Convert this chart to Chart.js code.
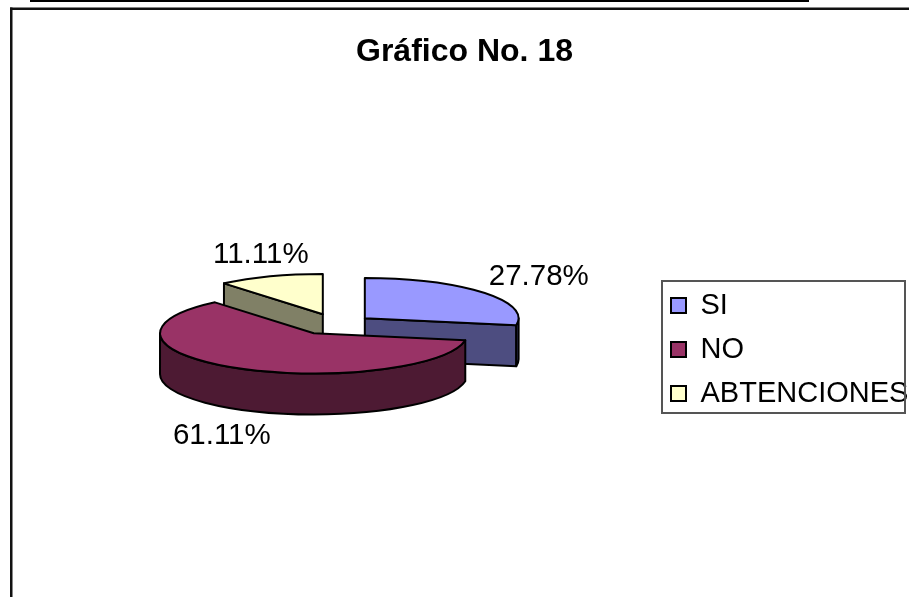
<!DOCTYPE html>
<html><head><meta charset="utf-8">
<script src="https://cdn.jsdelivr.net/npm/chart.js@4"></script>
<style>html,body{margin:0;padding:0;background:#fff;overflow:hidden}canvas{display:block}</style>
</head><body>
<canvas id="c" width="909" height="597"></canvas>
<script>
const categories = ['SI', 'NO', 'ABTENCIONES'];
const values = [27.78, 61.11, 11.11];
const topColors = ['#9999ff', '#993366', '#ffffcc'];
const wallColors = ['#4d4d80', '#4d1a33', '#808066'];
const sliceShift = [[28, -9], [-23, 6], [-14, -13]];
const labelShift = [[202, -50.5], [-115, 109], [-76, -72]];
const drawOrder = [0, 2, 1];
const squash = 0.262, depth = 41;
const FONT = '"Liberation Sans", Arial, sans-serif';

const pie3d = {
  id: 'pie3d',
  afterLayout(chart) {
    const lg = chart.legend, w = lg.width, h = lg.height;
    lg.left = 656; lg.right = 656 + w;
    lg.top = 349.5 - h / 2; lg.bottom = lg.top + h;
    const t = chart.titleBlock;
    t.left = 20; t.right = 909;
  },
  beforeDraw(chart) {
    const c = chart.ctx;
    c.save();
    c.fillStyle = '#fff'; c.fillRect(0, 0, 909, 597);
    c.fillStyle = '#000';
    c.fillRect(30, 0, 779, 2);
    c.fillStyle = '#111';
    c.fillRect(10, 7.5, 899, 2.5);
    c.fillRect(10, 7.5, 2.5, 590);
    c.restore();
  },
  beforeDatasetDraw(chart, args) {
    const c = chart.ctx, arcs = chart.getDatasetMeta(args.index).data;
    c.save();
    c.lineWidth = 2; c.strokeStyle = '#000'; c.lineJoin = 'round';
    drawOrder.forEach(i => {
      const a = arcs[i], r = a.outerRadius;
      const x = a.x + sliceShift[i][0], y = a.y + sliceShift[i][1];
      const ry = r * squash, s = a.startAngle, e = a.endAngle;
      const edge = ang => [x + r * Math.cos(ang), y + ry * Math.sin(ang)];
      const paint = col => { c.closePath(); c.fillStyle = col; c.fill(); c.stroke(); };
      [[s, Math.sin(s - Math.PI / 2)], [e, Math.sin(e + Math.PI / 2)]].forEach(([ang, vis]) => {
        if (vis > 1e-6) {
          const p = edge(ang);
          c.beginPath(); c.moveTo(x, y); c.lineTo(p[0], p[1]);
          c.lineTo(p[0], p[1] + depth); c.lineTo(x, y + depth);
          paint(wallColors[i]);
        }
      });
      const tau = Math.PI * 2;
      [0, tau].forEach(base => {
        const a1 = Math.max(s, base), a2 = Math.min(e, base + Math.PI);
        if (a2 > a1) {
          c.beginPath();
          c.ellipse(x, y, r, ry, 0, a1, a2, false);
          c.ellipse(x, y + depth, r, ry, 0, a2, a1, true);
          paint(wallColors[i]);
        }
      });
      c.beginPath(); c.moveTo(x, y);
      c.ellipse(x, y, r, ry, 0, s, e, false);
      paint(topColors[i]);
    });
    c.fillStyle = '#000';
    c.font = '29.5px ' + FONT;
    c.textAlign = 'center'; c.textBaseline = 'middle';
    arcs.forEach((a, i) => {
      c.fillText(values[i].toFixed(2) + '%', a.x + labelShift[i][0], a.y + labelShift[i][1]);
    });
    c.restore();
    return false;
  },
  afterDraw(chart) {
    const c = chart.ctx;
    c.save();
    c.strokeStyle = '#555'; c.lineWidth = 2;
    c.strokeRect(662, 281, 243, 132);
    c.restore();
  }
};

new Chart(document.getElementById('c'), {
  type: 'pie',
  data: {
    labels: categories,
    datasets: [{ data: values, backgroundColor: topColors, borderColor: '#000', borderWidth: 2 }]
  },
  plugins: [pie3d],
  options: {
    responsive: false,
    animation: false,
    layout: { padding: { left: 27, right: 0, top: 0, bottom: 115 } },
    plugins: {
      tooltip: { enabled: false },
      title: {
        display: true, text: 'Gráfico No. 18', color: '#000',
        font: { family: FONT, size: 32, weight: 'bold' },
        padding: { top: 33, bottom: 101 }
      },
      legend: {
        position: 'right',
        labels: {
          color: '#000', boxWidth: 15, boxHeight: 15, padding: 15,
          font: { family: FONT, size: 29 }
        }
      }
    }
  }
});
</script>
</body></html>
